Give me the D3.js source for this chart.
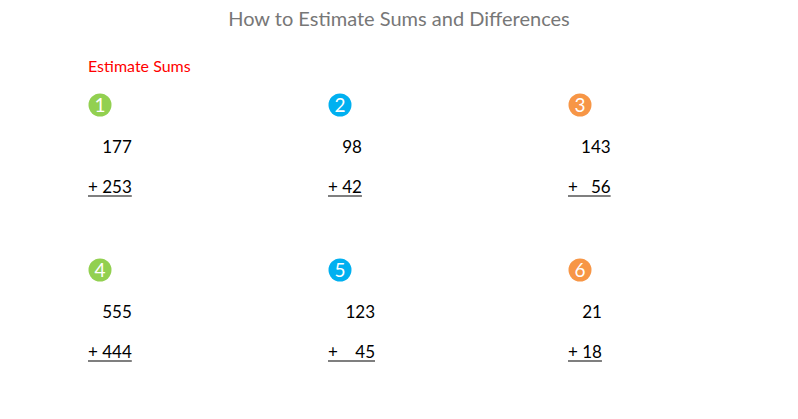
<!DOCTYPE html>
<html>
<head>
<meta charset="utf-8">
<script src="https://cdn.jsdelivr.net/npm/d3@7"></script>
<style>
  body { margin: 0; background: #fff; }
  text { font-family: Lato, "Open Sans", sans-serif; }
</style>
</head>
<body>
<svg id="chart" width="798" height="419"></svg>
<script>
// problem data
var labels = ["1", "2", "3", "4", "5", "6"];
var topNums = ["177", "98", "143", "555", "123", "21"];
var bottomNums = ["+ 253", "+ 42", "+   56", "+ 444", "+    45", "+ 18"];
var badgeColors = ["#92d050", "#00b0f0", "#f79646", "#92d050", "#00b0f0", "#f79646"];

var svg = d3.select("#chart");

svg.append("text")
    .attr("x", 399).attr("y", 26)
    .attr("text-anchor", "middle")
    .style("font-size", "20px").style("fill", "#777")
    .text("How to Estimate Sums and Differences");

svg.append("text")
    .attr("x", 88).attr("y", 72)
    .style("font-size", "16px").style("fill", "#ff0000")
    .text("Estimate Sums");

var x = d3.scalePoint().domain([0, 1, 2]).range([88, 568]);
var y = d3.scalePoint().domain([0, 1]).range([105, 270]);

var items = labels.map(function(l, i){
    return {label: l, top: topNums[i], bottom: bottomNums[i], color: badgeColors[i], col: i % 3, row: Math.floor(i / 3)};
});

var g = svg.selectAll("g.problem")
    .data(items)
    .enter()
    .append("g")
    .attr("class", "problem")
    .attr("transform", function(d){ return "translate(" + x(d.col) + "," + y(d.row) + ")"; });

g.append("circle")
    .attr("cx", 12).attr("cy", 0).attr("r", 11.5)
    .style("fill", function(d){ return d.color; });

g.append("text")
    .attr("x", 12).attr("y", 7)
    .attr("text-anchor", "middle")
    .style("font-size", "19px").style("fill", "#fff")
    .text(function(d){ return d.label; });

var bottom = g.append("text")
    .attr("x", 0).attr("y", 88)
    .attr("xml:space", "preserve")
    .style("white-space", "pre")
    .style("font-size", "17px").style("fill", "#000")
    .text(function(d){ return d.bottom; });

bottom.each(function(d){
    var w = this.getComputedTextLength();
    var p = d3.select(this.parentNode);
    p.append("line")
        .attr("x1", 0).attr("x2", w)
        .attr("y1", 91).attr("y2", 91)
        .style("stroke", "#000").style("stroke-width", 1.2);
    p.append("text")
        .attr("x", w).attr("y", 48)
        .attr("text-anchor", "end")
        .style("font-size", "17px").style("fill", "#000")
        .text(d.top);
});
</script>
</body>
</html>
